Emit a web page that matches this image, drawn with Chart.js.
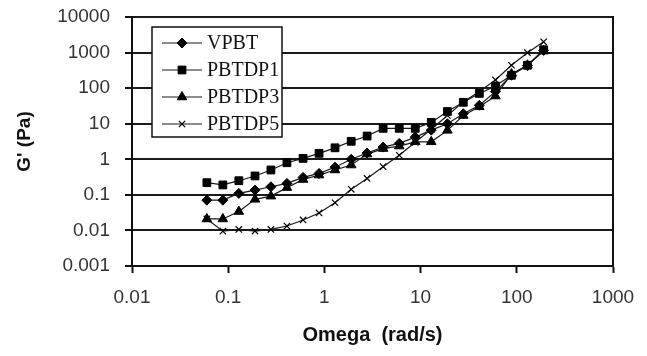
<!DOCTYPE html>
<html>
<head>
<meta charset="utf-8">
<script src="https://cdn.jsdelivr.net/npm/chart.js@4/dist/chart.umd.min.js"></script>
<style>
  html, body { margin: 0; padding: 0; background: #fff; }
  #wrap { width: 647px; height: 356px; }
</style>
</head>
<body>
<div id="wrap"><canvas id="modulusChart"></canvas></div>
<script>
// angular frequency (rad/s)
const omega = [0.06, 0.088, 0.129, 0.19, 0.278, 0.408, 0.6, 0.88, 1.29, 1.9, 2.78,
               4.08, 6.0, 8.8, 12.9, 19.0, 27.8, 40.8, 60, 88, 129, 190];

// G' (Pa) per sample
const vpbt   = [0.071, 0.071, 0.11, 0.136, 0.169, 0.21, 0.31, 0.40, 0.6, 1.0, 1.5,
                2.2, 2.8, 4.2, 6.6, 10, 19, 33, 80, 230, 430, 1150];
const pbtdp1 = [0.22, 0.19, 0.25, 0.34, 0.5, 0.8, 1.06, 1.47, 2.1, 3.2, 4.5,
                7.4, 7.4, 7.4, 10.9, 22, 40, 71, 115, 230, 440, 1200];
const pbtdp3 = [0.021, 0.021, 0.034, 0.075, 0.092, 0.16, 0.27, 0.36, 0.5, 0.69, 1.4,
                2.0, 2.35, 3.1, 3.1, 6.5, 17, 30, 60, 250, 440, 1100];
const pbtdp5 = [0.021, 0.0095, 0.0107, 0.0096, 0.0107, 0.0133, 0.0197, 0.031, 0.06, 0.143, 0.29,
                0.62, 1.3, 3.0, 7, 17, 41, 80, 170, 440, 990, 2000];

const seriesNames = ['VPBT', 'PBTDP1', 'PBTDP3', 'PBTDP5'];

const xTicks = [0.01, 0.1, 1, 10, 100, 1000];
const xTickLabels = ['0.01', '0.1', '1', '10', '100', '1000'];
const yTicks = [0.001, 0.01, 0.1, 1, 10, 100, 1000, 10000];
const yTickLabels = ['0.001', '0.01', '0.1', '1', '10', '100', '1000', '10000'];

function toPoints(values) {
    return values.map((v, i) => ({ x: omega[i], y: v }));
}

function makeSet(label, values, style, radius, width) {
    return {
        label: label,
        data: toPoints(values),
        borderColor: '#1a1a1a',
        borderWidth: 1.2,
        backgroundColor: '#000',
        pointStyle: style,
        pointRadius: radius,
        pointBorderWidth: width,
        pointBackgroundColor: '#000',
        pointBorderColor: '#000',
        tension: 0
    };
}

// legend box drawn inside the plot, top-left
const insideLegend = {
    id: 'insideLegend',
    afterDraw(chart) {
        const ctx = chart.ctx;
        const left = 152, top = 27, w = 130, h = 110;
        ctx.save();
        ctx.fillStyle = '#fff';
        ctx.fillRect(left, top, w, h);
        ctx.strokeStyle = '#111';
        ctx.lineWidth = 1.5;
        ctx.strokeRect(left, top, w, h);
        ctx.font = '20px "Liberation Serif", "Times New Roman", serif';
        ctx.textBaseline = 'middle';
        chart.data.datasets.forEach((ds, i) => {
            const y = 43 + i * 27;
            ctx.strokeStyle = '#1a1a1a';
            ctx.lineWidth = 1.2;
            ctx.beginPath();
            ctx.moveTo(162, y);
            ctx.lineTo(202, y);
            ctx.stroke();
            ctx.fillStyle = '#000';
            ctx.strokeStyle = '#000';
            ctx.lineWidth = ds.pointBorderWidth;
            Chart.helpers.drawPoint(ctx, {
                pointStyle: ds.pointStyle,
                radius: ds.pointRadius,
                rotation: 0,
                borderWidth: ds.pointBorderWidth
            }, 182, y);
            ctx.fillStyle = '#111';
            ctx.fillText(ds.label, 207, y + 1);
        });
        ctx.restore();
    }
};

// right edge of the plot frame
const rightEdge = {
    id: 'rightEdge',
    beforeDatasetsDraw(chart) {
        const a = chart.chartArea;
        const ctx = chart.ctx;
        ctx.save();
        ctx.strokeStyle = '#111';
        ctx.lineWidth = 2;
        ctx.beginPath();
        ctx.moveTo(a.right, a.top - 1);
        ctx.lineTo(a.right, a.bottom + 1);
        ctx.stroke();
        ctx.restore();
    }
};

const tickFont = { family: '"Liberation Sans", Arial, sans-serif', size: 19 };
const titleFont = { family: '"Liberation Sans", Arial, sans-serif', size: 19, weight: 'bold' };

new Chart(document.getElementById('modulusChart'), {
    type: 'line',
    data: {
        datasets: [
            makeSet(seriesNames[0], vpbt, 'rectRot', 5, 1),
            makeSet(seriesNames[1], pbtdp1, 'rect', 5.5, 1),
            makeSet(seriesNames[2], pbtdp3, 'triangle', 5.5, 1),
            makeSet(seriesNames[3], pbtdp5, 'crossRot', 4.5, 1.2)
        ]
    },
    options: {
        responsive: true,
        maintainAspectRatio: false,
        animation: false,
        layout: { padding: { left: 0, top: 17, right: 34, bottom: 0 } },
        plugins: {
            legend: { display: false },
            tooltip: { enabled: false }
        },
        scales: {
            x: {
                type: 'logarithmic',
                min: 0.01,
                max: 1000,
                afterBuildTicks: scale => { scale.ticks = xTicks.map(v => ({ value: v })); },
                afterFit: scale => {
                    scale.height = 90;
                    scale.paddingLeft = 0;
                    scale.paddingRight = 0;
                },
                ticks: {
                    autoSkip: false,
                    maxRotation: 0,
                    color: '#333',
                    font: tickFont,
                    padding: 13,
                    callback: value => xTickLabels[xTicks.indexOf(value)]
                },
                grid: {
                    drawOnChartArea: false,
                    drawTicks: true,
                    tickLength: 7,
                    tickWidth: 2,
                    tickColor: '#111'
                },
                border: { display: true, color: '#111', width: 2 },
                title: {
                    display: true,
                    text: 'Omega  (rad/s)',
                    color: '#111',
                    font: { family: '"Liberation Sans", Arial, sans-serif', size: 20, weight: 'bold' },
                    padding: { top: 0, bottom: 9 }
                }
            },
            y: {
                type: 'logarithmic',
                min: 0.001,
                max: 10000,
                afterBuildTicks: scale => { scale.ticks = yTicks.map(v => ({ value: v })); },
                afterFit: scale => {
                    scale.width = 132;
                    scale.paddingTop = 0;
                    scale.paddingBottom = 0;
                },
                ticks: {
                    autoSkip: false,
                    color: '#333',
                    font: tickFont,
                    padding: 15,
                    callback: value => yTickLabels[yTicks.indexOf(value)]
                },
                grid: {
                    color: '#1a1a1a',
                    lineWidth: 2,
                    drawTicks: true,
                    tickLength: 7,
                    tickColor: '#111'
                },
                border: { display: true, color: '#111', width: 2 },
                title: {
                    display: true,
                    text: "G' (Pa)",
                    color: '#111',
                    font: titleFont,
                    padding: { top: 13, bottom: 0 }
                }
            }
        }
    },
    plugins: [rightEdge, insideLegend]
});
</script>
</body>
</html>
